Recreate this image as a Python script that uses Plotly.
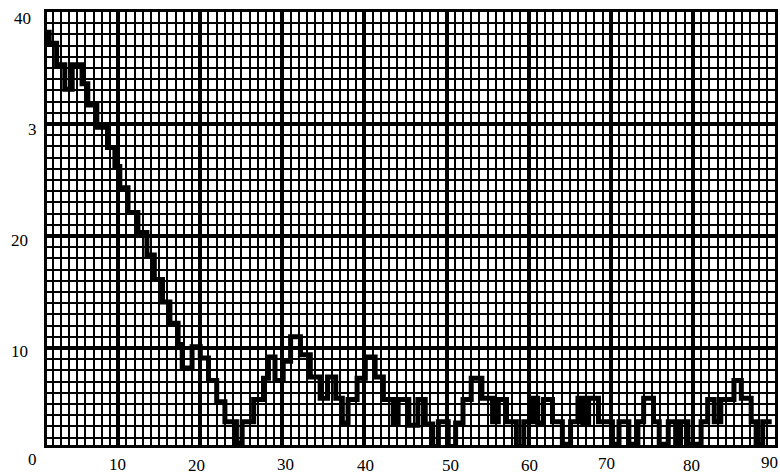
import plotly.graph_objects as go

# Step positions (start of each level) and levels
step_x = [1.3, 1.6, 2.5, 3.5, 4.4, 5.6, 6.3, 7.4, 8.7, 9.6,
          10.2, 11.2, 12.4, 13.5, 14.4, 15.4, 16.3, 17.3, 17.8, 19.0,
          20.0, 21.0, 22.0, 23.0, 24.4, 25.1, 26.5, 27.7, 28.3, 29.1,
          30.1, 31.0, 32.2, 33.4, 34.6, 35.5, 36.5, 37.3, 38.0, 39.1,
          40.1, 41.3, 42.3, 43.5, 44.1, 45.4, 46.5, 47.4, 48.3, 49.0,
          50.2, 51.1, 52.0, 53.0, 54.3, 55.6, 56.3, 57.3, 58.5, 59.4,
          60.5, 61.1, 61.8, 62.9, 64.1, 65.1, 66.0, 66.6, 67.3, 68.5,
          70.2, 71.0, 72.2, 73.3, 74.0, 75.2, 75.9, 77.0, 77.9, 78.5,
          79.4, 81.0, 81.8, 82.6, 83.4, 85.0, 85.9, 87.1, 87.7, 88.5,
          89.6]
levels = [38.2, 37.2, 35.3, 33.1, 35.3, 33.6, 31.7, 29.7, 27.9, 26.2,
          24.3, 22.1, 20.3, 18.3, 16.1, 14.1, 12.2, 10.3, 8.2, 10.1,
          9.1, 7.1, 5.2, 3.4, 1.5, 3.4, 5.4, 7.3, 9.2, 7.1,
          8.8, 11.0, 9.4, 7.4, 5.5, 7.4, 5.5, 3.3, 5.4, 7.3,
          9.2, 7.4, 5.4, 3.3, 5.4, 3.1, 5.4, 3.2, 1.2, 3.4,
          1.2, 3.3, 5.4, 7.3, 5.5, 3.4, 5.4, 3.4, 1.2, 3.4,
          5.5, 3.3, 5.4, 3.4, 1.4, 3.4, 5.5, 3.3, 5.5, 3.4,
          1.4, 3.4, 1.4, 3.4, 5.5, 3.4, 1.4, 3.4, 1.4, 3.4,
          1.4, 3.4, 5.4, 3.4, 5.4, 7.1, 5.5, 3.4, 1.4, 3.4,
          3.4]

x_tick_vals = [10, 20, 30, 40, 50, 60, 70, 80, 90]
x_tick_text = ["10", "20", "30", "40", "50", "60", "70", "80", "90"]
y_tick_vals = [40, 30, 20, 10]
y_tick_text = ["40", "3", "20", "10"]
origin_text = "0"

FONT = "Liberation Serif"
FS = 17

fig = go.Figure()
fig.add_trace(go.Scatter(
    x=step_x, y=levels, mode="lines", line_shape="hv",
    line=dict(color="black", width=5), cliponaxis=False, showlegend=False,
))

annotations = []
x_shifts = [-1, -4, 3, 1, 4, 1, -4, -1, -6]
y_shifts = [-19, -20, -19, -20, -20, -20, -18, -20, -17]
for v, t, dx, dy in zip(x_tick_vals, x_tick_text, x_shifts, y_shifts):
    annotations.append(dict(x=v, y=0, xref="x", yref="paper", text=t, showarrow=False,
                            xanchor="center", yanchor="middle", xshift=dx, yshift=dy,
                            font=dict(family=FONT, size=FS, color="black")))
y_xshift = [-25, -15, -28, -28]
y_yshift = [-6, -6, -5, -4]
for v, t, dx, dy in zip(y_tick_vals, y_tick_text, y_xshift, y_yshift):
    annotations.append(dict(x=0, y=v, xref="paper", yref="y", text=t, showarrow=False,
                            xanchor="center", yanchor="middle", xshift=dx, yshift=dy,
                            font=dict(family=FONT, size=FS, color="black")))
annotations.append(dict(x=0, y=0, xref="paper", yref="paper", text=origin_text, showarrow=False,
                        xanchor="center", yanchor="middle", xshift=-15, yshift=-14,
                        font=dict(family=FONT, size=FS, color="black")))

fig.update_layout(
    width=780, height=475,
    margin=dict(l=47, r=5, t=12, b=30, autoexpand=False),
    paper_bgcolor="white", plot_bgcolor="white",
    annotations=annotations,
    xaxis=dict(range=[1.33, 90], tick0=0, dtick=10, showticklabels=False, ticks="",
               showgrid=True, gridcolor="black", gridwidth=4, zeroline=False,
               showline=True, linecolor="black", linewidth=3, mirror=True,
               minor=dict(tick0=0, dtick=1, showgrid=True, gridcolor="black", gridwidth=1.6)),
    yaxis=dict(range=[1.33, 40], tick0=0, dtick=10, showticklabels=False, ticks="",
               showgrid=True, gridcolor="black", gridwidth=4, zeroline=False,
               showline=True, linecolor="black", linewidth=3, mirror=True,
               minor=dict(tick0=0, dtick=1, showgrid=True, gridcolor="black", gridwidth=1.6)),
)

fig.write_html(
    "out.html",
    config={"displayModeBar": False},
    post_script="document.body.style.margin='0';document.body.style.overflow='hidden';",
)
